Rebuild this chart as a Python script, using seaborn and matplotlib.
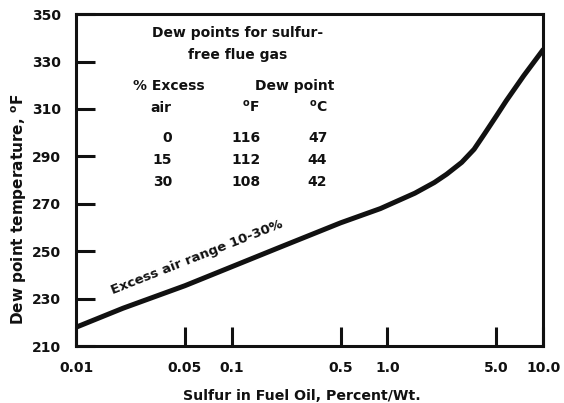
import numpy as np
import pandas as pd
import seaborn as sns
from matplotlib import pyplot as plt

# curve
sulfur = [0.01, 0.02, 0.05, 0.1, 0.2, 0.5, 0.9, 1.5, 2.0, 2.4, 3.0, 3.6, 4.2, 5.0, 5.8, 7.5, 10.0]
dew_f = [218, 226, 235.5, 243.5, 251.5, 262, 268, 274.5, 279, 282.5, 287.5, 293, 299.5, 307, 313.5, 324, 335]

x_ticks = [0.01, 0.05, 0.1, 0.5, 1.0, 5.0, 10.0]
x_tick_labels = ['0.01', '0.05', '0.1', '0.5', '1.0', '5.0', '10.0']
y_ticks = [210, 230, 250, 270, 290, 310, 330, 350]

# inset table
excess_air = ['0', '15', '30']
dew_point_f = ['116', '112', '108']
dew_point_c = ['47', '44', '42']

df = pd.DataFrame({'Sulfur': sulfur, 'Dew': dew_f})

sns.set_style('ticks')
plt.rcParams['font.family'] = ['DejaVu Sans']
plt.rcParams['font.weight'] = 'bold'
plt.rcParams['mathtext.fontset'] = 'custom'
plt.rcParams['mathtext.bf'] = 'DejaVu Sans:bold'
plt.rcParams['mathtext.rm'] = 'DejaVu Sans:bold'

fig = plt.figure(figsize=(5.64, 4.03), dpi=100)
ax = fig.add_axes([0.135, 0.141, 0.828, 0.824])
sns.lineplot(data=df, x='Sulfur', y='Dew', color='#111111', linewidth=3.6,
             estimator=None, ax=ax)
ax.set_xscale('log')
ax.set_xlim(0.01, 10.0)
ax.set_ylim(210, 350)
ax.set_xticks(x_ticks)
ax.set_xticklabels(x_tick_labels)
ax.minorticks_off()
ax.set_yticks(y_ticks)
ax.tick_params(direction='in', length=14, width=2.2, labelsize=10, pad=11,
               color='#111111', labelcolor='#111111')
for s in ax.spines.values():
    s.set_linewidth(2.2)
    s.set_color('#111111')

ax.set_xlabel('Sulfur in Fuel Oil, Percent/Wt.', fontsize=10.2, fontweight='bold',
              labelpad=10, color='#111111')
ax.xaxis.label.set_x(0.483)
ax.set_ylabel(r'Dew point temperature, $^{\mathrm{o}}$F', fontsize=11,
              fontweight='bold', labelpad=2, color='#111111')
ax.yaxis.label.set_y(0.413)

ax.text(0.06, 247.5, 'Excess air range 10-30%', rotation=21.5, ha='center',
        va='center', fontsize=9.5, fontweight='bold', color='#111111',
        rotation_mode='anchor')

tkw = dict(transform=ax.transAxes, fontsize=10, fontweight='bold', color='#111111',
           va='center')
ax.text(0.346, 0.943, 'Dew points for sulfur-', ha='center', **tkw)
ax.text(0.346, 0.877, 'free flue gas', ha='center', **tkw)
ax.text(0.199, 0.783, '% Excess', ha='center', **tkw)
ax.text(0.469, 0.783, 'Dew point', ha='center', **tkw)
ax.text(0.182, 0.717, 'air', ha='center', **tkw)
ax.text(0.375, 0.722, r'$^{\mathrm{o}}$F', ha='center', **tkw)
ax.text(0.518, 0.722, r'$^{\mathrm{o}}$C', ha='center', **tkw)
rows_y = [0.627, 0.560, 0.494]
for ea, f, c, yy in zip(excess_air, dew_point_f, dew_point_c, rows_y):
    ax.text(0.2056, yy, ea, ha='right', **tkw)
    ax.text(0.364, yy, f, ha='center', **tkw)
    ax.text(0.517, yy, c, ha='center', **tkw)

fig.savefig('out.png', dpi=100)
